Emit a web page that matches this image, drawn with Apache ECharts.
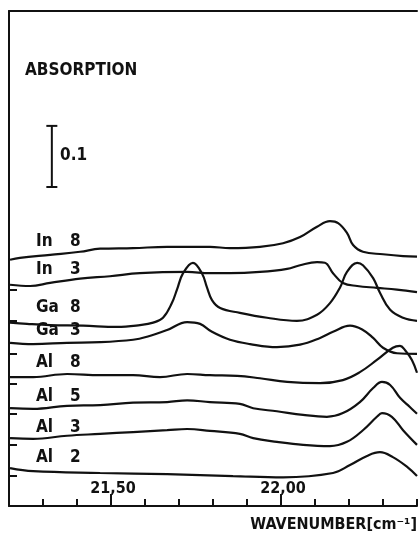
<!DOCTYPE html>
<html><head><meta charset="utf-8">
<script src="https://cdn.jsdelivr.net/npm/echarts@6/dist/echarts.min.js"></script>
<style>html,body{margin:0;padding:0;background:#fff}#c{width:420px;height:535px}</style>
</head><body><div id="c"></div>
<script>
// ---- data (x: wavenumber in 10^3 cm^-1, y: absorption, curves offset) ----
const seriesNames = ['In 8','In 3','Ga 8','Ga 3','Al 8','Al 5','Al 3','Al 2'];
const in8 = [[21.203,0.403],[21.232,0.406],[21.321,0.411],[21.409,0.416],[21.468,0.421],[21.565,0.422],[21.665,0.424],[21.791,0.424],[21.850,0.422],[21.938,0.424],[22.006,0.430],[22.056,0.440],[22.106,0.457],[22.144,0.466],[22.168,0.463],[22.194,0.447],[22.212,0.427],[22.241,0.416],[22.300,0.412],[22.359,0.409],[22.40,0.408]];
const in3 = [[21.203,0.362],[21.262,0.360],[21.321,0.365],[21.409,0.372],[21.497,0.376],[21.585,0.381],[21.724,0.383],[21.791,0.381],[21.850,0.381],[21.938,0.383],[22.018,0.388],[22.056,0.394],[22.106,0.399],[22.129,0.398],[22.153,0.381],[22.182,0.365],[22.224,0.360],[22.282,0.357],[22.341,0.354],[22.40,0.350]];
const ga8 = [[21.203,0.300],[21.253,0.298],[21.321,0.296],[21.418,0.295],[21.518,0.293],[21.585,0.296],[21.624,0.300],[21.653,0.308],[21.679,0.332],[21.694,0.354],[21.712,0.381],[21.741,0.398],[21.768,0.380],[21.782,0.358],[21.797,0.337],[21.821,0.324],[21.879,0.316],[21.959,0.308],[22.047,0.303],[22.106,0.313],[22.144,0.332],[22.174,0.358],[22.194,0.383],[22.224,0.398],[22.241,0.394],[22.271,0.373],[22.291,0.349],[22.321,0.321],[22.359,0.308],[22.40,0.303]];
const ga3 = [[21.203,0.267],[21.271,0.265],[21.371,0.267],[21.468,0.268],[21.565,0.272],[21.606,0.277],[21.665,0.288],[21.724,0.301],[21.762,0.298],[21.797,0.285],[21.850,0.272],[21.909,0.265],[21.988,0.260],[22.056,0.264],[22.115,0.275],[22.153,0.285],[22.203,0.295],[22.241,0.288],[22.271,0.275],[22.300,0.259],[22.341,0.250],[22.40,0.249]];
const al8 = [[21.203,0.211],[21.271,0.211],[21.371,0.216],[21.468,0.214],[21.565,0.214],[21.644,0.211],[21.724,0.216],[21.791,0.214],[21.871,0.213],[21.938,0.209],[22.018,0.203],[22.115,0.201],[22.182,0.206],[22.232,0.219],[22.282,0.239],[22.329,0.259],[22.350,0.262],[22.365,0.255],[22.385,0.239],[22.40,0.218]];
const al5 = [[21.203,0.160],[21.271,0.159],[21.371,0.164],[21.468,0.165],[21.565,0.169],[21.665,0.170],[21.724,0.173],[21.791,0.170],[21.879,0.167],[21.918,0.160],[21.988,0.155],[22.065,0.149],[22.135,0.146],[22.182,0.152],[22.232,0.170],[22.271,0.193],[22.297,0.203],[22.321,0.198],[22.350,0.177],[22.379,0.162],[22.40,0.151]];
const al3 = [[21.203,0.111],[21.271,0.110],[21.371,0.115],[21.468,0.118],[21.565,0.121],[21.665,0.124],[21.724,0.126],[21.791,0.123],[21.879,0.118],[21.918,0.111],[21.988,0.105],[22.065,0.100],[22.144,0.098],[22.194,0.105],[22.241,0.124],[22.282,0.146],[22.297,0.152],[22.326,0.146],[22.359,0.124],[22.40,0.100]];
const al2 = [[21.203,0.062],[21.271,0.057],[21.468,0.054],[21.665,0.052],[21.859,0.049],[22.006,0.047],[22.153,0.054],[22.203,0.067],[22.253,0.082],[22.291,0.088],[22.329,0.080],[22.371,0.064],[22.40,0.049]];
const baselineTicks = [0.354,0.303,0.249,0.200,0.151,0.101,0.049];
const xLabelTicks = [21.5, 22.0];
const xLabelText = ['21,50','22,00'];
const scaleBarX = 21.326;
const scaleBarY = [0.522, 0.622];
const scaleBarLabel = '0.1';
const yTitle = 'ABSORPTION';
const xTitle = 'WAVENUMBER[cm\u207B\u00B9]';

// ---- chart ----
const curves = [in8,in3,ga8,ga3,al8,al5,al3,al2];
const INK = '#111';
const FAM = '"DejaVu Sans Condensed", "DejaVu Sans", sans-serif';
const FONT = 'bold 17px ' + FAM;
const FONT_S = 'bold 16px ' + FAM;
const labelPos = [[36,242],[36,270],[36,308],[36,331],[36,363],[36,397],[36,428],[36,458]];

const chart = echarts.init(document.getElementById('c'), null, {renderer:'canvas'});
const series = curves.map((d,i)=>({
  name: seriesNames[i], type:'line', data:d, showSymbol:false, smooth:0.4,
  lineStyle:{color:INK, width:2.2}, itemStyle:{color:INK}, silent:true, z:3
}));
series.push({
  name:'scale', type:'line', data: scaleBarY.map(v=>[scaleBarX,v]),
  symbol:'rect', symbolSize:[11,2], showSymbol:true,
  lineStyle:{color:INK,width:2}, itemStyle:{color:INK}, silent:true
});

const txt = (x,y,text,font,align)=>({type:'text', x:x, y:y,
  style:{text:text, font:font, fill:INK, align:align||'left', verticalAlign:'middle', textAlign:align||'left', textVerticalAlign:'middle'}});
const graphics = [];
seriesNames.forEach((n,i)=>{
  const parts = n.split(' ');
  graphics.push(txt(labelPos[i][0], labelPos[i][1], parts[0], FONT));
  graphics.push(txt(70, labelPos[i][1], parts[1], FONT));
});
graphics.push(txt(25, 71, yTitle, FONT));
graphics.push(txt(60, 156, scaleBarLabel, FONT));
graphics.push(txt(417, 525, xTitle, FONT_S, 'right'));

chart.setOption({
  animation:false,
  backgroundColor:'#fff',
  grid:{left:9, right:3, top:11, bottom:29},
  xAxis:[
    {type:'value', min:21.2, max:22.4, interval:0.1, position:'bottom',
     axisLine:{show:true, lineStyle:{color:INK,width:2}},
     axisTick:{show:true, inside:true, length:7, lineStyle:{color:INK,width:2}},
     axisLabel:{show:false}, splitLine:{show:false}},
    {type:'value', min:21.2, max:22.4, position:'bottom',
     axisLine:{show:false},
     axisTick:{show:true, inside:true, length:12, customValues:xLabelTicks, lineStyle:{color:INK,width:2}},
     axisLabel:{show:true, inside:true, customValues:xLabelTicks, margin:9, padding:[0,0,0,4],
       formatter:(v)=>{const k=xLabelTicks.findIndex(t=>Math.abs(t-v)<1e-6); return k>=0?xLabelText[k]:'';},
       color:INK, fontFamily:FAM, fontWeight:'bold', fontSize:16},
     splitLine:{show:false}},
    {type:'value', min:21.2, max:22.4, position:'top',
     axisLine:{show:true, lineStyle:{color:INK,width:2}},
     axisTick:{show:false}, axisLabel:{show:false}, splitLine:{show:false}}
  ],
  yAxis:{type:'value', min:0, max:0.81,
    axisLine:{show:true, lineStyle:{color:INK,width:2}},
    axisTick:{show:true, inside:true, length:8, customValues:baselineTicks, lineStyle:{color:INK,width:2}},
    axisLabel:{show:false}, splitLine:{show:false}},
  series: series,
  graphic: graphics
});
</script>
</body></html>
